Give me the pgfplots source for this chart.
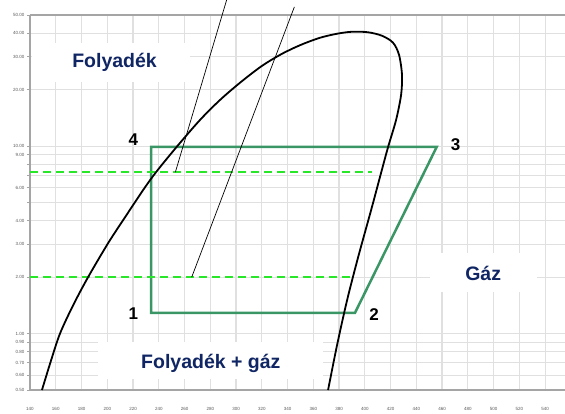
\documentclass[border=0pt]{standalone}
\usepackage{fontspec}
\setmainfont{Liberation Sans}
\usepackage{pgfplots}
\pgfplotsset{compat=1.18}

\definecolor{cyclegreen}{RGB}{58,150,100}
\definecolor{dashgreen}{RGB}{40,230,40}
\definecolor{labelnavy}{RGB}{16,38,100}
\definecolor{gridgray}{RGB}{224,224,224}
\definecolor{axisgray}{RGB}{165,165,165}

\begin{document}
\begin{tikzpicture}
\path[use as bounding box] (-30pt,-24pt) rectangle (535pt,390pt);
\begin{axis}[
  at={(0,0)}, anchor=south west,
  scale only axis, width=535pt, height=375pt,
  xmin=140, xmax=555.5, ymin=0.5, ymax=50,
  ymode=log,
  clip=false,
  axis line style={draw=none},
  xtick={140,160,...,540},
  xticklabels={140,160,180,200,220,240,260,280,300,320,340,360,380,400,420,440,460,480,500,520,540},
  ytick={0.5,0.6,0.7,0.8,0.9,1,2,3,4,5,6,7,8,9,10,20,30,40,50},
  yticklabels={0.50,0.60,0.70,0.80,0.90,1.00,2.00,3.00,4.00,,6.00,,,9.00,10.00,20.00,30.00,40.00,50.00},
  grid=major,
  major grid style={gridgray, line width=1.1pt},
  tick label style={font=\fontsize{4.5}{5}\selectfont, text=black!65},
  x tick style={draw=none},
  y tick style={axisgray, line width=0.6pt},
  tick align=outside, major tick length=3pt,
  ytick pos=left,
  xticklabel style={yshift=-11pt},
  yticklabel style={xshift=1pt},
]
% axis frame: left, bottom and top only
\draw[axisgray, line width=1.4pt] (rel axis cs:0,1) -- (rel axis cs:0,0) -- (rel axis cs:1,0);
\draw[axisgray, line width=1.2pt] (rel axis cs:0,1) -- (rel axis cs:1,1);

% white panels behind the region names
\fill[white] (rel axis cs:0.003,0.821) rectangle (rel axis cs:0.299,0.925);
\fill[white] (rel axis cs:0.748,0.261) rectangle (rel axis cs:0.948,0.365);
\fill[white] (rel axis cs:0.127,0.029) rectangle (rel axis cs:0.548,0.128);

% refrigeration cycle 1-2-3-4
\addplot[cyclegreen, line width=2.5pt, line join=miter]
  coordinates {(234.0,1.29) (392.4,1.29) (455.9,9.91) (234.0,9.91)} -- cycle;

% evaporating and condensing pressure levels
\addplot[dashgreen, line width=2pt, dash pattern=on 8pt off 5pt]
  coordinates {(140,7.26) (405.6,7.26)};
\addplot[dashgreen, line width=2pt, dash pattern=on 8pt off 5pt]
  coordinates {(140,2.0) (392.4,2.0)};

% saturation dome (liquid line, critical region, vapour line)
\addplot[black, line width=1.8pt, smooth, tension=0.5] coordinates {
  (149.3,0.5) (156.3,0.717) (163.3,1.0) (173.4,1.411) (185.0,1.993)
  (200.6,3.03) (213.8,4.17) (227.8,5.82) (237.9,7.26) (253.8,9.88)
  (272.0,13.77) (287.6,17.62) (303.9,21.99) (320.2,26.78) (335.7,31.05)
  (350.5,34.69) (365.2,37.8) (378.4,39.72) (390.1,40.7) (402.5,40.45)
  (413.4,38.75) (421.9,35.6) (426.6,30.67) (428.9,23.97) (428.2,18.74)
  (424.3,13.77) (418.1,9.88) (412.6,7.17) (404.9,4.55) (394.8,2.55)
  (386.2,1.50) (378.4,0.863) (371.5,0.5)
};

% two isotherm segments
\addplot[black, line width=0.7pt] coordinates {(292.8,60.4) (252.9,7.26)};
\addplot[black, line width=0.7pt] coordinates {(345.3,55.2) (265.6,2.0)};

% region names
\node[anchor=base, text=labelnavy, font=\fontsize{19.5}{22}\selectfont\bfseries]
  at (rel axis cs:0.158,0.8595) {Folyadék};
\node[anchor=base, text=labelnavy, font=\fontsize{19.5}{22}\selectfont\bfseries]
  at (rel axis cs:0.847,0.2933) {Gáz};
\node[anchor=base, text=labelnavy, font=\fontsize{19.5}{22}\selectfont\bfseries]
  at (rel axis cs:0.338,0.0579) {Folyadék + gáz};

% state points
\node[font=\fontsize{17}{20}\selectfont\bfseries] at (rel axis cs:0.193,0.2027) {1};
\node[font=\fontsize{17}{20}\selectfont\bfseries] at (rel axis cs:0.643,0.200) {2};
\node[font=\fontsize{17}{20}\selectfont\bfseries] at (rel axis cs:0.7957,0.655) {3};
\node[font=\fontsize{17}{20}\selectfont\bfseries] at (rel axis cs:0.193,0.667) {4};
\end{axis}
\end{tikzpicture}
\end{document}
